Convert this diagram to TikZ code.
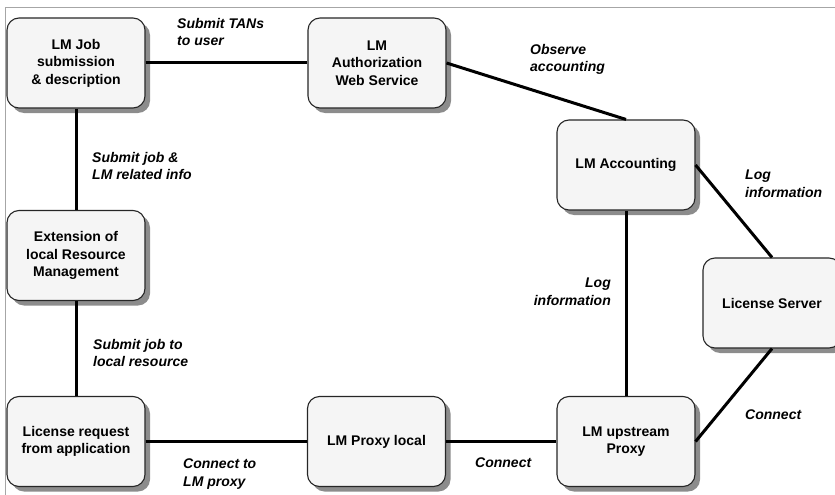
\documentclass[tikz,border=0pt]{standalone}
\usepackage{fontspec}
\setmainfont{Liberation Sans}
\usetikzlibrary{shadows}
\begin{document}
\begin{tikzpicture}[x=1pt,y=-1pt,
  box/.style={rectangle, rounded corners=12pt, draw=black!85, line width=1.1pt,
    fill=black!4, minimum width=138pt, minimum height=90pt, align=center,
    inner sep=2pt, font=\fontsize{14}{17.5}\selectfont\bfseries,
    drop shadow={shadow xshift=5pt, shadow yshift=-5pt, fill=black!45, opacity=1}},
  conn/.style={line width=3pt, black},
  lab/.style={inner sep=0pt, font=\fontsize{14}{17.5}\selectfont\bfseries\itshape},
  frame/.style={draw=black!35, line width=1pt}]
\useasboundingbox (0,0) rectangle (835,495);
\clip (0,0) rectangle (835,495);
\coordinate (f1) at (835,8);
\coordinate (f2) at (5,8);
\coordinate (f3) at (5,495);
\draw[frame] (f1) -- (f2) -- (f3);

\node[box] (job) at (76,63) {LM Job\\submission\\\& description};
\node[box] (auth) at (377,63) {LM\\Authorization\\Web Service};
\node[box] (acc) at (626,165) {LM Accounting};
\node[box] (ls) at (772,303) {License Server};
\node[box] (ext) at (76,255.5) {Extension of\\local Resource\\Management};
\node[box] (lr) at (76,441.5) {License request\\from application};
\node[box] (pl) at (376.5,441.5) {LM Proxy local};
\node[box] (up) at (626,441.5) {LM upstream\\Proxy};

\draw[conn] (job.east) -- (auth.west);
\draw[conn] (job.south) -- (ext.north);
\draw[conn] (ext.south) -- (lr.north);
\draw[conn] (lr.east) -- (pl.west);
\draw[conn] (pl.east) -- (up.west);
\draw[conn] (up.north) -- (acc.south);
\draw[conn] (auth.east) -- (acc.north);
\draw[conn] (acc.east) -- (ls.north);
\draw[conn] (ls.south) -- (up.east);

\node[lab, anchor=north west, align=left] (l1) at (177,18) {Submit TANs\\to user};
\node[lab, anchor=north west, align=left] (l2) at (92,152) {Submit job \&\\LM related info};
\node[lab, anchor=north west, align=left] (l3) at (530,44) {Observe\\accounting};
\node[lab, anchor=north west, align=left] (l4) at (745,170) {Log\\information};
\node[lab, anchor=north east, align=right] (l5) at (611,278) {Log\\information};
\node[lab, anchor=north west, align=left] (l6) at (93,339) {Submit job to\\local resource};
\node[lab, anchor=north west, align=left] (l7) at (183,459) {Connect to\\LM proxy};
\node[lab, anchor=north west, align=left] (l8) at (475,458) {Connect};
\node[lab, anchor=north west, align=left] (l9) at (745,410) {Connect};
\end{tikzpicture}
\end{document}
